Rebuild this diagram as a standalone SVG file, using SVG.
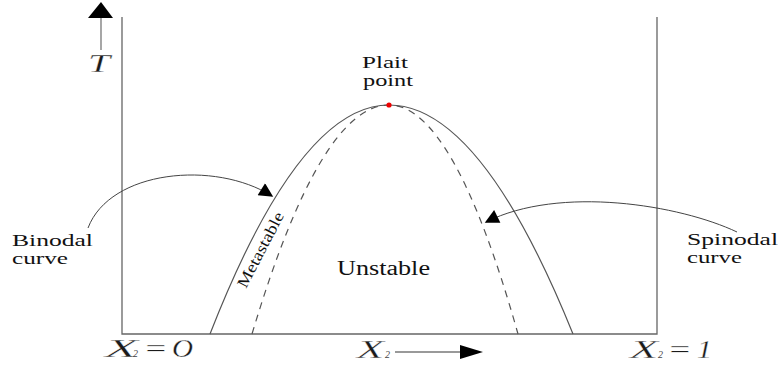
<svg xmlns="http://www.w3.org/2000/svg" width="779" height="367" viewBox="0 0 779 367">
<style>
.ax{fill:none;stroke:#666;stroke-width:1.3}
.cv{fill:none;stroke:#555;stroke-width:1.2}
.ds{fill:none;stroke:#555;stroke-width:1.2;stroke-dasharray:7,6}
.ar{fill:none;stroke:#444;stroke-width:1}
text{font-family:'Liberation Serif','Times New Roman','DejaVu Serif',serif}
.lb{font-size:17px;fill:#111}
.mt{font-style:italic;font-size:25px;fill:#1a1a1a;stroke:#fff;stroke-width:0.3}
.sb{font-style:italic;font-size:10px;fill:#444}
</style>
<defs>
<marker id="ah" viewBox="0 0 10 10" refX="9" refY="5" markerWidth="18" markerHeight="14" markerUnits="userSpaceOnUse" orient="auto">
<path d="M0,0 L10,5 L0,10 Z" fill="#000"/>
</marker>
</defs>
<g id="axes">
<path class="ax" d="M122,17 V334 H657 V17"/>
<line x1="101" y1="18" x2="101" y2="50" stroke="#777" stroke-width="1.3"/>
<path d="M88,18 L101,2 L113,18 Z" fill="#000"/>
<line x1="395" y1="352" x2="460" y2="352" stroke="#777" stroke-width="1.3"/>
<path d="M460,345 L483,352 L460,359 Z" fill="#000"/>
</g>
<g id="binodal">
<path class="cv" d="M210,334 Q299.5,105 389,105 Q480.5,105 573,334"/>
</g>
<g id="spinodal">
<path class="ds" d="M252,334 Q320.5,105 389,105 Q453.5,105 518,334"/>
</g>
<g id="plait-point">
<circle cx="389" cy="105" r="2.6" fill="#e00"/>
<text class="lb" x="362" y="68" textLength="46" lengthAdjust="spacingAndGlyphs" style="font-size:17px">Plait</text>
<text class="lb" x="363" y="86" textLength="50" lengthAdjust="spacingAndGlyphs" style="font-size:17px">point</text>
</g>
<g id="connectors">
<path class="ar" d="M88,228 C110,170 215,160 272,196" marker-end="url(#ah)"/>
<path class="ar" d="M737,232 C680,205 560,185 486,222" marker-end="url(#ah)"/>
</g>
<g id="binodal-label">
<text class="lb" x="12" y="246" textLength="81" lengthAdjust="spacingAndGlyphs">Binodal</text>
<text class="lb" x="12" y="264" textLength="56" lengthAdjust="spacingAndGlyphs">curve</text>
</g>
<g id="spinodal-label">
<text class="lb" x="687" y="245" textLength="91" lengthAdjust="spacingAndGlyphs">Spinodal</text>
<text class="lb" x="687" y="263" textLength="55" lengthAdjust="spacingAndGlyphs">curve</text>
</g>
<g id="metastable">
<text class="lb" transform="translate(246,289) rotate(-62.5)" textLength="83" lengthAdjust="spacingAndGlyphs" style="font-size:16px">Metastable</text>
</g>
<g id="unstable">
<text class="lb" x="337" y="275" textLength="93" lengthAdjust="spacingAndGlyphs" style="font-size:20px">Unstable</text>
</g>
<g id="t-label">
<text class="mt" x="88" y="72" textLength="22" lengthAdjust="spacingAndGlyphs">T</text>
</g>
<g id="x0-label">
<text class="mt" x="105" y="357" textLength="33" lengthAdjust="spacingAndGlyphs">X</text>
<text class="sb" x="133" y="357">2</text>
<text class="mt" x="143" y="357" textLength="25" lengthAdjust="spacingAndGlyphs">=</text>
<text class="mt" x="172" y="357" textLength="21" lengthAdjust="spacingAndGlyphs">O</text>
</g>
<g id="x-axis-label">
<text class="mt" x="357" y="358" textLength="27" lengthAdjust="spacingAndGlyphs">X</text>
<text class="sb" x="385" y="358">2</text>
</g>
<g id="x1-label">
<text class="mt" x="630" y="358" textLength="28" lengthAdjust="spacingAndGlyphs">X</text>
<text class="sb" x="658" y="358">2</text>
<text class="mt" x="667" y="358" textLength="25" lengthAdjust="spacingAndGlyphs">=</text>
<text class="mt" x="697" y="358" textLength="15" lengthAdjust="spacingAndGlyphs">1</text>
</g>
</svg>
